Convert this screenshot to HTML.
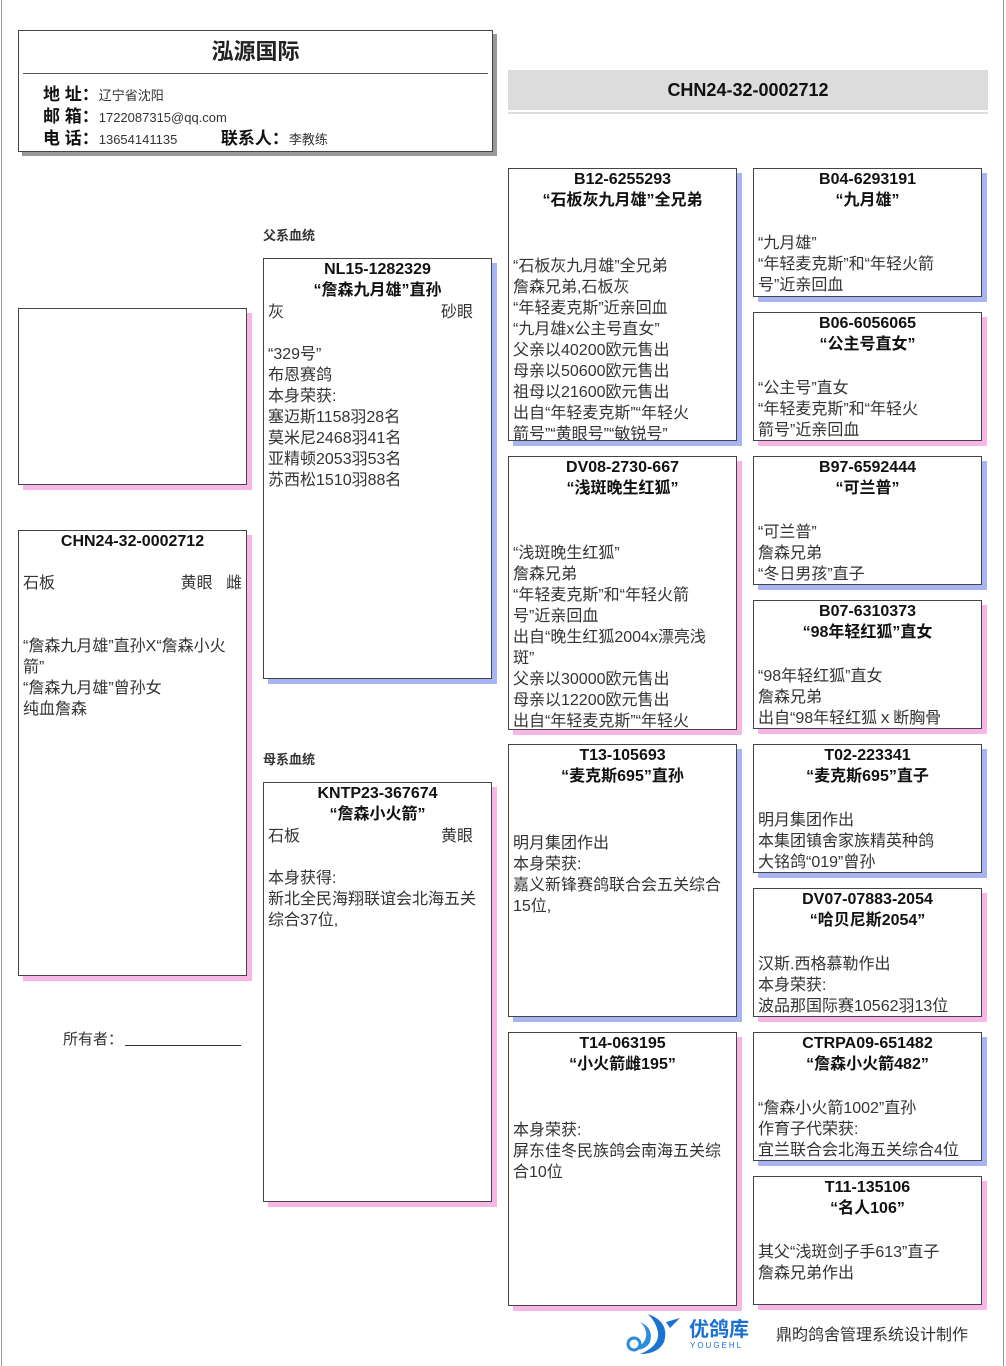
<!DOCTYPE html>
<html><head><meta charset="utf-8"><style>
*{margin:0;padding:0;box-sizing:border-box}
body{width:1006px;height:1366px;position:relative;background:#fff;font-family:"Liberation Sans","Noto Sans CJK SC",sans-serif;color:#333;overflow:hidden}
.b{position:absolute;border:1px solid #444;background:#fff;overflow:hidden}
.m{box-shadow:5px 5px 0 #a8b4f4}
.f{box-shadow:5px 5px 0 #f6b6e6}
.t{text-align:center;font-weight:bold;color:#111;font-size:16px;line-height:21px;padding-top:0}
.c{padding-left:4px;font-size:16px;line-height:21px;white-space:pre-wrap;position:absolute;left:0;right:0}
.r{display:flex;justify-content:space-between;padding-right:18px}
.lbl{position:absolute;font-size:13px;font-weight:bold;color:#333}
</style></head><body>
<div style="position:absolute;left:1px;top:0;width:1px;height:1366px;background:#999"></div>
<div style="position:absolute;left:1003px;top:0;width:1px;height:1366px;background:#999"></div>

<div class="b" style="left:18px;top:30px;width:475px;height:122px;box-shadow:4px 4px 0 #999">
 <div style="text-align:center;font-weight:bold;font-size:22px;color:#222;line-height:42px">泓源国际</div>
 <div style="position:absolute;left:4px;right:4px;top:42px;height:1px;background:#555"></div>
 <div style="position:absolute;left:24px;top:53px;font-size:13px;line-height:21px">
  <div><b style="font-size:17px;color:#111">地 址：</b>辽宁省沈阳</div>
  <div><b style="font-size:17px;color:#111">邮 箱：</b>1722087315@qq.com</div>
  <div><b style="font-size:17px;color:#111">电 话：</b>13654141135 <b style="font-size:17px;color:#111;margin-left:40px">联系人：</b>李教练</div>
 </div>
</div>

<div style="position:absolute;left:508px;top:70px;width:480px;height:40px;background:#dcdcdc;text-align:center;line-height:40px;font-weight:bold;font-size:18px;color:#111">CHN24-32-0002712</div>
<div style="position:absolute;left:508px;top:112px;width:480px;height:2px;background:#ddd"></div>

<div class="b f" style="left:18px;top:308px;width:229px;height:177px"></div>

<div class="b f" style="left:18px;top:530px;width:229px;height:446px">
 <div class="t">CHN24-32-0002712</div>
 <div class="c" style="top:42px"><div style="display:flex;justify-content:space-between;padding-right:4px"><span>石板</span><span>黄眼 &nbsp; 雌</span></div>

“詹森九月雄”直孙X“詹森小火
箭”
“詹森九月雄”曾孙女
纯血詹森</div>
</div>
<div style="position:absolute;left:63px;top:1028px;font-size:15px">所有者：<span style="display:inline-block;width:116px;border-bottom:1px solid #333;vertical-align:-2px;margin-left:2px"></span></div>

<div class="lbl" style="left:263px;top:225px">父系血统</div>
<div class="b m" style="left:263px;top:258px;width:229px;height:421px">
 <div class="t">NL15-1282329<br>“詹森九月雄”直孙</div>
 <div class="c" style="top:43px"><div class="r"><span>灰</span><span>砂眼</span></div>
“329号”
布恩赛鸽
本身荣获:
塞迈斯1158羽28名
莫米尼2468羽41名
亚精顿2053羽53名
苏西松1510羽88名</div>
</div>

<div class="lbl" style="left:263px;top:749px">母系血统</div>
<div class="b f" style="left:263px;top:782px;width:229px;height:420px">
 <div class="t">KNTP23-367674<br>“詹森小火箭”</div>
 <div class="c" style="top:43px"><div class="r"><span>石板</span><span>黄眼</span></div>
本身获得:
新北全民海翔联谊会北海五关
综合37位,</div>
</div>

<div class="b m" style="left:508px;top:168px;width:229px;height:273px">
 <div class="t">B12-6255293<br>“石板灰九月雄”全兄弟</div>
 <div class="c" style="top:87px">“石板灰九月雄”全兄弟
詹森兄弟,石板灰
“年轻麦克斯”近亲回血
“九月雄x公主号直女”
父亲以40200欧元售出
母亲以50600欧元售出
祖母以21600欧元售出
出自“年轻麦克斯”“年轻火
箭号”“黄眼号”“敏锐号”</div>
</div>
<div class="b f" style="left:508px;top:456px;width:229px;height:274px">
 <div class="t">DV08-2730-667<br>“浅斑晚生红狐”</div>
 <div class="c" style="top:86px">“浅斑晚生红狐”
詹森兄弟
“年轻麦克斯”和“年轻火箭
号”近亲回血
出自“晚生红狐2004x漂亮浅
斑”
父亲以30000欧元售出
母亲以12200欧元售出
出自“年轻麦克斯”“年轻火</div>
</div>
<div class="b m" style="left:508px;top:744px;width:229px;height:273px">
 <div class="t">T13-105693<br>“麦克斯695”直孙</div>
 <div class="c" style="top:88px">明月集团作出
本身荣获:
嘉义新锋赛鸽联合会五关综合
15位,</div>
</div>
<div class="b f" style="left:508px;top:1032px;width:229px;height:274px">
 <div class="t">T14-063195<br>“小火箭雌195”</div>
 <div class="c" style="top:87px">本身荣获:
屏东佳冬民族鸽会南海五关综
合10位</div>
</div>

<div class="b m" style="left:753px;top:168px;width:229px;height:129px">
 <div class="t">B04-6293191<br>“九月雄”</div>
 <div class="c" style="top:64px">“九月雄”
“年轻麦克斯”和“年轻火箭
号”近亲回血</div>
</div>
<div class="b f" style="left:753px;top:312px;width:229px;height:129px">
 <div class="t">B06-6056065<br>“公主号直女”</div>
 <div class="c" style="top:65px">“公主号”直女
“年轻麦克斯”和“年轻火
箭号”近亲回血</div>
</div>
<div class="b m" style="left:753px;top:456px;width:229px;height:129px">
 <div class="t">B97-6592444<br>“可兰普”</div>
 <div class="c" style="top:65px">“可兰普”
詹森兄弟
“冬日男孩”直子</div>
</div>
<div class="b f" style="left:753px;top:600px;width:229px;height:129px">
 <div class="t">B07-6310373<br>“98年轻红狐”直女</div>
 <div class="c" style="top:65px">“98年轻红狐”直女
詹森兄弟
出自“98年轻红狐ｘ断胸骨</div>
</div>
<div class="b m" style="left:753px;top:744px;width:229px;height:129px">
 <div class="t">T02-223341<br>“麦克斯695”直子</div>
 <div class="c" style="top:65px">明月集团作出
本集团镇舍家族精英种鸽
大铭鸽“019”曾孙</div>
</div>
<div class="b f" style="left:753px;top:888px;width:229px;height:129px">
 <div class="t">DV07-07883-2054<br>“哈贝尼斯2054”</div>
 <div class="c" style="top:65px">汉斯.西格慕勒作出
本身荣获:
波品那国际赛10562羽13位</div>
</div>
<div class="b m" style="left:753px;top:1032px;width:229px;height:129px">
 <div class="t">CTRPA09-651482<br>“詹森小火箭482”</div>
 <div class="c" style="top:65px">“詹森小火箭1002”直孙
作育子代荣获:
宜兰联合会北海五关综合4位</div>
</div>
<div class="b f" style="left:753px;top:1176px;width:229px;height:129px">
 <div class="t">T11-135106<br>“名人106”</div>
 <div class="c" style="top:65px">其父“浅斑剑子手613”直子
詹森兄弟作出</div>
</div>

<svg style="position:absolute;left:620px;top:1312px" width="70" height="44" viewBox="0 0 70 44">
 <path d="M28 2 Q50 10 44 30 Q38 42 20 42 Q40 34 38 20 Q36 10 28 2Z" fill="#1a73d0"/>
 <path d="M20 10 Q34 16 30 30 Q26 38 14 38 Q28 30 26 20 Q25 14 20 10Z" fill="#2b8de0"/>
 <circle cx="14" cy="32" r="6" fill="none" stroke="#2b8de0" stroke-width="3"/>
 <path d="M46 10 L60 6 L50 16Z" fill="#1a73d0"/>
</svg>
<div style="position:absolute;left:689px;top:1318px;font-size:20px;font-weight:bold;color:#1a6fd0;line-height:24px">优鸽库</div>
<div style="position:absolute;left:690px;top:1341px;font-size:8px;color:#1a6fd0;letter-spacing:2px">YOUGEHL</div>
<div style="position:absolute;left:776px;top:1321px;font-size:16px;color:#333">鼎昀鸽舍管理系统设计制作</div>
</body></html>
